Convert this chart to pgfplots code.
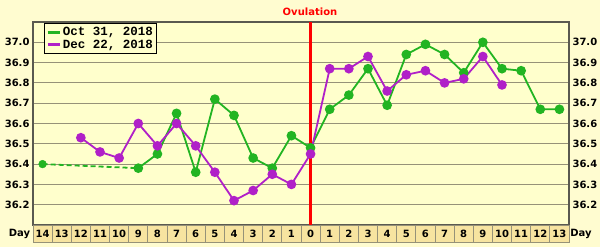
\documentclass[border=0pt]{standalone}
\usepackage{pgfplots}
\pgfplotsset{compat=1.18}
\usepackage{fontspec}
\setmainfont{DejaVu Sans}
\newfontfamily\monofont{Liberation Mono}
\definecolor{outerbg}{RGB}{255,252,208}
\definecolor{plotbg}{RGB}{255,255,204}
\definecolor{bandbg}{RGB}{247,228,160}
\definecolor{gridc}{RGB}{150,146,120}
\definecolor{borderc}{RGB}{90,90,80}
\definecolor{gline}{RGB}{34,180,34}
\definecolor{pline}{RGB}{176,32,200}
\pgfplotstableread{
x y
0 36.40
5 36.38
}\greendash
\pgfplotstableread{
x y
5 36.38
6 36.45
7 36.65
8 36.36
9 36.72
10 36.64
11 36.43
12 36.38
13 36.54
14 36.48
15 36.67
16 36.74
17 36.87
18 36.69
19 36.94
20 36.99
21 36.94
22 36.85
23 37.00
24 36.87
25 36.86
26 36.67
27 36.67
}\greensolid
\pgfplotstableread{
x y
2 36.53
3 36.46
4 36.43
5 36.60
6 36.49
7 36.60
8 36.49
9 36.36
10 36.22
11 36.27
12 36.35
13 36.30
14 36.45
15 36.87
16 36.87
17 36.93
18 36.76
19 36.84
20 36.86
21 36.80
22 36.82
23 36.93
24 36.79
}\purple
\begin{document}
\begin{tikzpicture}[x=1pt,y=1pt]
\fill[outerbg] (0,0) rectangle (600,247);
\useasboundingbox (0,0) rectangle (600,247);
% main axis
\begin{axis}[
  at={(33pt,22pt)}, anchor=south west,
  scale only axis, width=536pt, height=203pt,
  xmin=-0.5, xmax=27.5, ymin=36.1, ymax=37.1,
  axis background/.style={fill=plotbg},
  xtick=\empty,
  minor xtick={-0.5,0.5,...,27.5},
  minor x grid style={gridc, line width=0.9pt},
  xminorgrids=true,
  ytick={36.2,36.3,36.4,36.5,36.6,36.7,36.8,36.9,37.0},
  ymajorgrids=true,
  major grid style={gridc, line width=0.9pt},
  major tick length=0pt, minor tick length=0pt,
  axis line style={borderc, line width=1.2pt},
  yticklabel pos=left,
  yticklabel style={font=\bfseries\fontsize{10}{12}\selectfont, xshift=0pt},
  /pgf/number format/assume math mode=true,
  /pgf/number format/.cd, fixed, fixed zerofill, precision=1,
  /pgfplots/.cd,
  legend style={at={(0.0205,0.995)}, anchor=north west, draw=black, line width=1.2pt, fill=plotbg,
    font=\monofont\bfseries\fontsize{12.5}{12.5}\selectfont, row sep=-1.5pt, inner sep=1.8pt},
  legend cell align=left,
  legend image code/.code={\draw[#1, line width=2.5pt] (0pt,0pt) -- (12pt,0pt);},
]
\addlegendimage{gline}
\addlegendentry{Oct 31, 2018}
\addlegendimage{pline}
\addlegendentry{Dec 22, 2018}
\draw[red, line width=3pt] (axis cs:14,36.1) -- (axis cs:14,37.1);
\addplot[forget plot, gline, line width=1.8pt, dashed, dash pattern=on 5pt off 3pt] table[x=x,y=y]{\greendash};
\addplot[forget plot, gline, line width=1.8pt, mark=*, mark size=3.9pt, mark options={solid}] table[x=x,y=y]{\greensolid};
\addplot[forget plot, only marks, gline, mark=*, mark size=3.9pt] table[x=x,y=y]{\greendash};
\addplot[forget plot, pline, line width=1.8pt, mark=*, mark size=3.9pt] table[x=x,y=y]{\purple};
\end{axis}
% right tick labels
\begin{axis}[
  at={(33pt,22pt)}, anchor=south west,
  scale only axis, width=536pt, height=203pt,
  xmin=-0.5, xmax=27.5, ymin=36.1, ymax=37.1,
  hide x axis, axis y line*=right,
  y axis line style={draw=none},
  ytick={36.2,36.3,36.4,36.5,36.6,36.7,36.8,36.9,37.0},
  major tick length=0pt,
  yticklabel style={font=\bfseries\fontsize{10}{12}\selectfont},
  /pgf/number format/assume math mode=true,
  /pgf/number format/.cd, fixed, fixed zerofill, precision=1,
]
\end{axis}
% day band
\begin{axis}[
  at={(33pt,5pt)}, anchor=south west,
  scale only axis, width=536pt, height=17pt,
  xmin=-0.5, xmax=27.5, ymin=0, ymax=1,
  axis background/.style={fill=bandbg},
  ytick=\empty,
  xtick={0,...,27},
  xticklabels={14,13,12,11,10,9,8,7,6,5,4,3,2,1,0,1,2,3,4,5,6,7,8,9,10,11,12,13},
  xticklabel style={font=\bfseries\fontsize{10}{12}\selectfont, anchor=center, yshift=8.5pt},
  minor xtick={-0.5,0.5,...,27.5},
  xminorgrids=true,
  minor x grid style={gridc, line width=0.9pt},
  major tick length=0pt, minor tick length=0pt,
  axis line style={gridc, line width=0.9pt},
]
\end{axis}
\node[font=\bfseries\fontsize{10}{12}\selectfont] at (19.5,13.5) {Day};
\node[font=\bfseries\fontsize{10}{12}\selectfont] at (581,13.5) {Day};
\node[font=\bfseries\fontsize{10}{12}\selectfont, text=red] at (310,235) {Ovulation};
\end{tikzpicture}
\end{document}
